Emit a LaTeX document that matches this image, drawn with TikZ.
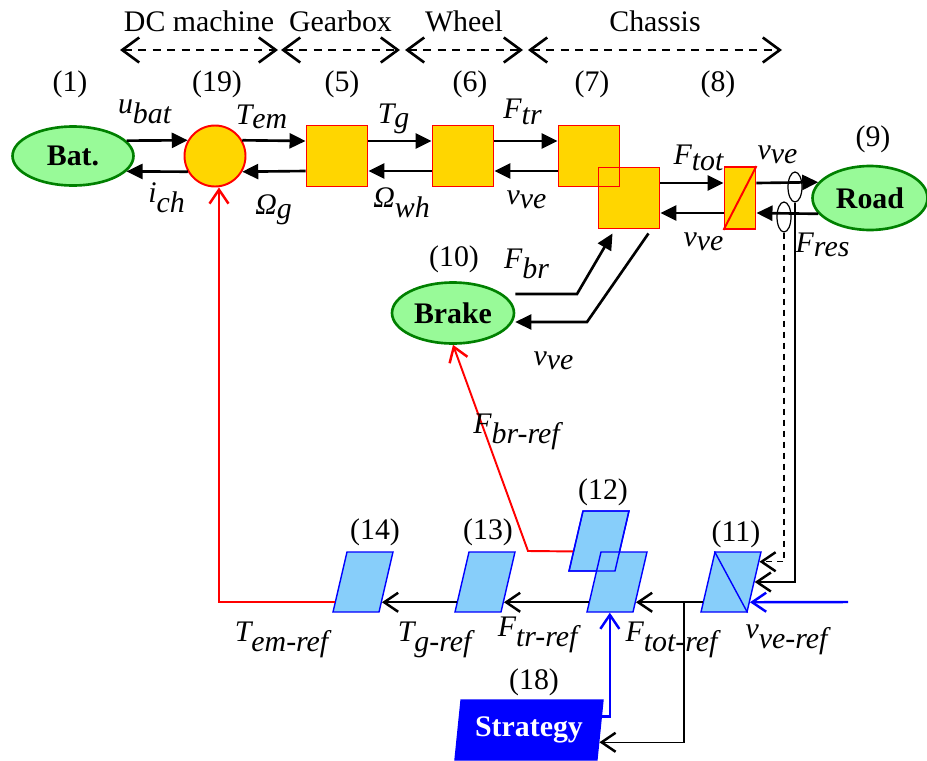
\documentclass[tikz,border=0pt]{standalone}
\usepackage{fontspec}
\setmainfont{Liberation Serif}
\usetikzlibrary{shapes.geometric,arrows.meta,calc}
\definecolor{boxgold}{RGB}{255,214,0}
\definecolor{leafgreen}{RGB}{152,250,152}
\definecolor{rimgreen}{RGB}{0,128,0}
\definecolor{skyblue}{RGB}{135,206,250}
\newcommand{\vlab}[2]{$\textit{#1}_{\textit{#2}}$}

\begin{document}
\fontsize{17}{20}\selectfont
\begin{tikzpicture}[x=0.02cm,y=-0.02cm,
  src/.style={ellipse,draw=rimgreen,fill=leafgreen,line width=1.5pt,inner sep=0pt,font=\bfseries},
  conv/.style={rectangle,draw=red,fill=boxgold,line width=1.1pt,inner sep=0pt},
  pgram/.style={rectangle,xslant=0.233,draw=blue,fill=skyblue,line width=0.8pt,
    minimum width=0.92cm,minimum height=1.2cm,inner sep=0pt},
  stratbox/.style={trapezium,trapezium left angle=77,trapezium right angle=103,trapezium stretches body,
    draw=blue,fill=blue,line width=0.8pt,minimum width=2.96cm,minimum height=1.2cm,inner sep=0pt,
    text=white,font=\bfseries},
  fwd/.style={-{Triangle[length=0.32cm,width=0.3cm]},line width=1.5pt},
  bwd/.style={-{Straight Barb[length=0.28cm,width=0.38cm,line width=1.4pt]},line width=1.4pt},
  zone/.style={{Straight Barb[length=0.34cm,width=0.5cm,line width=1.5pt]}-{Straight Barb[length=0.34cm,width=0.5cm,line width=1.5pt]},
    line width=1.3pt,dash pattern=on 0.16cm off 0.13cm}
]
\useasboundingbox (0,0) rectangle (927,761);

% component headings
\foreach \a/\b/\t in {120/278/DC machine,281/400/Gearbox,405/523/Wheel,528/782/Chassis}{
  \draw[zone] (\a,50) -- (\b,50) node[midway,above=0.14cm] (h\a) {\t};
}

% numbers
\foreach \n/\x/\y in {1/70/84,19/217/84,5/342/84,6/470/84,7/592/84,8/718/84,9/873/139,
  10/454/259,12/603/492,13/488/532,14/375/532,11/736/534,18/534/682}{
  \node (n\n) at (\x,\y) {(\n)};
}

% energetic part
\node[src,minimum width=2.42cm,minimum height=1.18cm] (bat) at (73,156) {Bat.};
\node[circle,draw=red,fill=boxgold,line width=1.1pt,minimum size=1.22cm,inner sep=0pt] (c19) at (215,156) {};
\node[conv,minimum size=1.22cm] (b5) at (337,156) {};
\node[conv,minimum size=1.22cm] (b6) at (463,156) {};
\node[conv,minimum size=1.22cm] (b7a) at (589,156) {};
\node[conv,minimum size=1.22cm] (b7b) at (629,198) {};
\node[conv,fill=none,minimum size=1.22cm] (b7aline) at (b7a) {};
\node[conv,minimum width=0.62cm,minimum height=1.24cm] (b8) at (740,198) {};
\draw[red,line width=1.1pt] (b8.south west) -- (b8.north east);
\node[src,minimum width=2.3cm,minimum height=1.28cm] (road) at (870,198) {Road};
\node[src,minimum width=2.44cm,minimum height=1.22cm] (brake) at (453,313) {Brake};

\draw[fwd] (bat.16) -- (c19.150);
\draw[fwd] (c19.-150) -- (bat.-16);
\draw[fwd] (c19.30) -- ([yshift=0.3cm]b5.west);
\draw[fwd] ([yshift=-0.3cm]b5.west) -- (c19.-30);
\foreach \a/\b in {b5/b6,b6/b7a,b7b/b8}{
  \draw[fwd] ([yshift=0.3cm]\a.east) -- ([yshift=0.3cm]\b.west);
  \draw[fwd] ([yshift=-0.3cm]\b.west) -- ([yshift=-0.3cm]\a.east);
}
\draw[fwd] ([yshift=0.3cm]b8.east) -- (road.163.5);
\draw[fwd] (road.-163.5) -- ([yshift=-0.3cm]b8.east);

% brake
\coordinate (brk1) at (577,294);
\coordinate (brk2) at (587,322);
\draw[fwd] (brake.east |- brk1) -- (brk1) -- ([xshift=0.3cm,yshift=-0.08cm]b7b.south west);
\draw[fwd] ([xshift=-0.24cm,yshift=-0.08cm]b7b.south east) -- (brk2) -- (brake.east |- brk2);

% measurements
\node[ellipse,draw,line width=0.7pt,minimum width=0.28cm,minimum height=0.6cm,inner sep=0pt] (s1) at (795,187) {};
\node[ellipse,draw,line width=0.7pt,minimum width=0.28cm,minimum height=0.6cm,inner sep=0pt] (s2) at (784,217) {};

% control part
\node[pgram] (p14) at (363,582) {};
\node[pgram] (p13) at (485,582) {};
\node[pgram] (p12a) at (599,541) {};
\node[pgram] (p12b) at (617,582) {};
\node[pgram,fill=none] (p12aline) at (p12a) {};
\node[pgram] (p11) at (731,582) {};
\draw[blue,line width=0.8pt] (p11.north west) -- (p11.south east);
\node[stratbox] (strat) at (529,730) {Strategy};

\foreach \p in {p11,p12b,p13,p14}{
  \coordinate (\p-l) at ($(\p.south west)!0.17!(\p.north west)$);
  \coordinate (\p-r) at ($(\p.south east)!0.17!(\p.north east)$);
}
\coordinate (p11-rt) at ($(p11.north east)!0.17!(p11.south east)$);
\coordinate (p12a-l) at ($(p12a.south west)!0.33!(p12a.north west)$);
\coordinate (strat-hi) at ($(strat.bottom right corner)!0.72!(strat.top right corner)$);
\coordinate (strat-lo) at ($(strat.bottom right corner)!0.3!(strat.top right corner)$);
\coordinate (vref) at (848,602);
\coordinate (tap) at (684,602);
\coordinate (rb) at (528,551);

\draw[bwd,line width=1.1pt] (s1.south) |- (p11.east);
\draw[bwd,line width=0.6pt,dash pattern=on 0.12cm off 0.1cm] (s2.south) |- (p11-rt);
\draw[bwd,blue] (vref) -- (p11-r);
\draw[bwd] (p11-l) -- (p12b-r);
\draw[bwd] (p12b-l) -- (p13-r);
\draw[bwd] (p13-l) -- (p14-r);
\draw[bwd,red,line width=1pt] (p14-l) -| ([xshift=0.08cm]c19.south);
\draw[bwd,red,line width=1.1pt] (p12a-l) -- (rb) -- (brake.south);
\draw[bwd,line width=0.6pt] (tap) |- (strat-lo);
\draw[bwd,blue,line width=1.3pt] (strat-hi) -| (p12b.south);

% labels
\node (lubat) at (145,112) {\vlab{u}{bat}};
\node (lich) at (167,198) {\vlab{i}{ch}};
\node (ltem) at (262,117) {\vlab{T}{em}};
\node (log) at (274,210) {\vlab{Ω}{g}};
\node (ltg) at (394,119) {\vlab{T}{g}};
\node (lowh) at (402,203) {\vlab{Ω}{wh}};
\node (lftr) at (523,112) {\vlab{F}{tr}};
\node (lvvea) at (527,200) {\vlab{v}{ve}};
\node (lftot) at (699,158) {\vlab{F}{tot}};
\node (lvveb) at (778,155) {\vlab{v}{ve}};
\node (lvvec) at (704,242) {\vlab{v}{ve}};
\node (lfres) at (823,245) {\vlab{F}{res}};
\node (lfbr) at (527,264) {\vlab{F}{br}};
\node (lvved) at (554,361) {\vlab{v}{ve}};
\node (lfbrref) at (517,432) {\vlab{F}{br-ref}};
\node (ltemref) at (282,640) {\vlab{T}{em-ref}};
\node (ltgref) at (435,640) {\vlab{T}{g-ref}};
\node (lftrref) at (538,635) {\vlab{F}{tr-ref}};
\node (lftotref) at (672,640) {\vlab{F}{tot-ref}};
\node (lvveref) at (787,640) {\vlab{v}{ve-ref}};
\end{tikzpicture}
\end{document}
